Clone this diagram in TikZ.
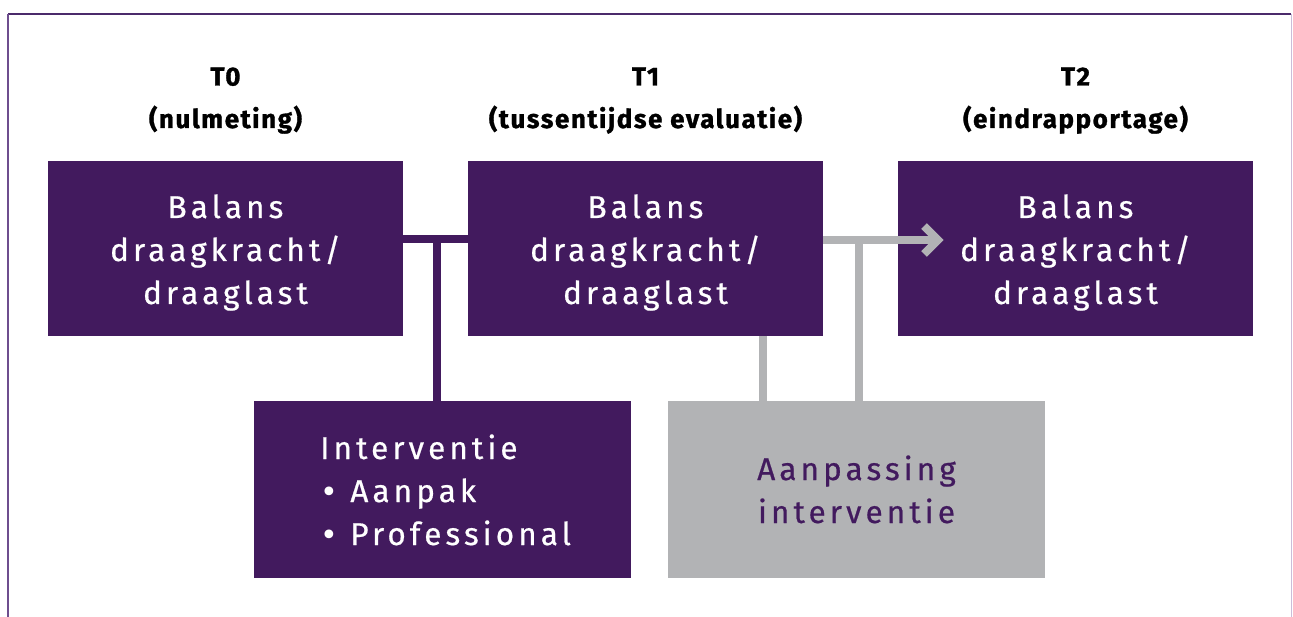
\documentclass[tikz,border=0pt]{standalone}
\usepackage{fontspec}
\newfontfamily\bodyfont[LetterSpace=13, FakeBold=0.6]{Fira Sans}
\newfontfamily\headfont[LetterSpace=6, BoldFeatures={FakeBold=1.2}]{Fira Sans}
\definecolor{ppurple}{HTML}{421A5E}
\definecolor{pgray}{HTML}{B2B3B5}
\definecolor{frameA}{HTML}{6E4E8E}
\definecolor{frameB}{HTML}{4B2A6B}
\definecolor{frameC}{HTML}{CBBCD9}
\tikzset{
  pbox/.style={fill=ppurple, draw=none, minimum width=355pt, minimum height=175pt, inner sep=0pt},
  gbox/.style={fill=pgray, draw=none, minimum width=377pt, minimum height=177pt, inner sep=0pt},
  btext/.style={anchor=base, inner sep=0pt, align=center, font=\bodyfont\fontsize{31.5}{43}\selectfont},
  head/.style={anchor=base, inner sep=0pt, font=\headfont\bfseries\fontsize{26}{30}\selectfont},
  pconn/.style={draw=ppurple, line width=8pt},
  gconn/.style={draw=pgray, line width=8pt},
}
\begin{document}
\begin{tikzpicture}[x=1pt,y=-1pt]
\useasboundingbox (0,0) rectangle (1293,617);
% frame
\draw[frameB, line width=1.5pt] (8,14) -- (1291,14);
\draw[frameA, line width=2pt] (8,14) -- (8,617);
\draw[frameC, line width=1pt] (1291,14) -- (1291,617);
% headers
\node[head] (h0) at (225.5,85.5) {T0};
\node[head] (h0b) at (225.5,128) {(nulmeting)};
\node[head] (h1) at (645.5,85.5) {T1};
\node[head] (h1b) at (645.5,128) {(tussentijdse evaluatie)};
\node[head] (h2) at (1075.5,85.5) {T2};
\node[head] (h2b) at (1075.5,128) {(eindrapportage)};
% boxes
\node[pbox] (A) at (225.5,248.5) {};
\node[pbox] (B) at (645.5,248.5) {};
\node[pbox] (C) at (1075.5,248.5) {};
\node[btext, text=white] (At) at (225.5,304) {Balans\\draagkracht/\\draaglast};
\node[btext, text=white] (Bt) at (645.5,304) {Balans\\draagkracht/\\draaglast};
\node[btext, text=white] (Ct) at (1075.5,304) {Balans\\draagkracht/\\draaglast};
\node[pbox, minimum width=377pt, minimum height=177pt] (D) at (442.5,489.5) {};
\node[btext, anchor=base west, align=left, text=white] (Dt) at (320,545) {Interventie\\{\fontspec{DejaVu Sans}\fontsize{30}{43}\selectfont •}\ Aanpak\\{\fontspec{DejaVu Sans}\fontsize{30}{43}\selectfont •}\ Professional};
\node[gbox] (E) at (856.5,489.5) {};
\node[btext, text=ppurple] (Et) at (856.5,523) {Aanpassing\\interventie};
% connectors
\coordinate (j1) at (436.5,239);
\draw[pconn] (A.east |- j1) -- (B.west |- j1);
\draw[pconn] (j1) -- (j1 |- D.north);
\coordinate (g1) at (859,240);
\coordinate (tip) at (938,240);
\draw[gconn] (B.east |- g1) -- (tip);
\draw[gconn, miter limit=10] (924,226) -- (tip) -- (924,254);
\draw[gconn] (g1) -- (g1 |- E.north);
\coordinate (g2) at (763,336);
\draw[gconn] (g2 |- B.south) -- (g2 |- E.north);
\end{tikzpicture}
\end{document}
